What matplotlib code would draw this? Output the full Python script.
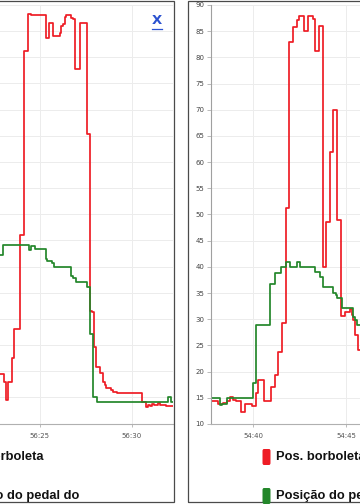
import matplotlib
matplotlib.use("Agg")
import matplotlib.pyplot as plt
from matplotlib.lines import Line2D
from matplotlib.patches import Rectangle, FancyBboxPatch

# left chart: seconds within minute 56
red_l_t = [22.83, 23.04, 23.15, 23.26, 23.48, 23.59, 23.89, 24.13, 24.35, 24.51, 24.62, 25.33, 25.49, 25.71,
           26.09, 26.14, 26.25, 26.36, 26.41, 26.68, 26.79, 26.90, 27.17, 27.55, 27.72, 27.83, 27.93, 28.04,
           28.26, 28.42, 28.53, 28.59, 28.86, 28.97, 29.18, 30.54, 30.76, 30.87, 30.98, 31.09, 31.20, 31.41,
           31.52, 31.85, 32.23]
red_l_v = [19.5, 18.0, 14.5, 18.0, 22.5, 28.0, 46.0, 81.3, 88.3, 88.0, 88.1, 83.7, 86.5, 84.0,
           84.6, 86.0, 86.3, 87.8, 88.0, 87.5, 87.4, 77.8, 86.6, 65.4, 31.6, 31.3, 24.6, 20.8,
           19.6, 17.9, 17.3, 16.8, 16.4, 16.0, 15.8, 14.1, 13.2, 13.5, 13.3, 13.7, 13.5, 13.9,
           13.5, 13.3, 13.3]
green_l_t = [22.83, 22.99, 24.40, 24.51, 24.73, 25.33, 25.38, 25.65, 25.76, 26.68, 26.79, 26.96, 27.55,
             27.72, 27.88, 28.10, 31.96, 32.12, 32.23]
green_l_v = [42.2, 44.2, 43.1, 44.0, 43.3, 41.4, 41.0, 40.6, 40.0, 38.2, 37.8, 37.0, 36.0,
             27.2, 15.1, 14.2, 15.0, 14.2, 14.2]

# right chart: seconds within minute 54
red_r_t = [37.74, 38.13, 38.23, 38.40, 38.59, 38.76, 38.91, 39.09, 39.35, 39.57, 39.93, 40.16, 40.29, 40.59,
           40.95, 41.18, 41.36, 41.54, 41.77, 41.95, 42.13, 42.35, 42.49, 42.74, 42.97, 43.21, 43.33, 43.56,
           43.75, 43.92, 44.14, 44.32, 44.50, 44.73, 44.95, 45.22, 45.31, 45.39, 45.48, 45.66, 45.75]
red_r_v = [14.4, 13.9, 13.8, 14.0, 14.3, 15.1, 14.6, 14.3, 12.3, 13.8, 13.5, 16.0, 18.4, 14.4,
           17.1, 19.4, 23.8, 29.2, 51.2, 83.0, 85.8, 87.2, 87.9, 85.0, 87.9, 87.4, 81.2, 86.0,
           39.9, 48.6, 61.9, 70.0, 48.9, 30.6, 31.4, 31.9, 30.8, 29.8, 27.0, 24.1, 24.1]
green_r_t = [37.74, 38.23, 38.32, 38.59, 39.98, 40.16, 40.91, 41.18, 41.51, 41.77, 41.99, 42.38, 42.53,
             43.33, 43.60, 43.75, 44.32, 44.46, 44.53, 44.77, 45.36, 45.48, 45.58, 45.75]
green_r_v = [14.9, 13.6, 13.9, 14.9, 17.9, 28.9, 36.8, 38.9, 40.0, 40.9, 40.0, 41.0, 39.9,
             39.0, 38.0, 36.1, 35.1, 34.6, 34.0, 32.1, 30.5, 29.8, 28.9, 28.9]

y_ticks = list(range(10, 95, 5))
x_ticks_l = [25, 30]
x_labels_l = ["56:25", "56:30"]
x_ticks_r = [40, 45]
x_labels_r = ["54:40", "54:45"]
labels = ["Pos. borboleta", "Posição do pedal do"]

RED = "#ee1c25"
GREEN = "#23872a"
W, H = 360, 504

fig = plt.figure(figsize=(3.6, 5.04), dpi=100)


def fx(px):
    return px / W


def fy(py):
    return 1 - py / H


def setup(ax, xlim, xt, xl, show_y):
    ax.set_xlim(*xlim)
    ax.set_ylim(10, 90)
    ax.set_yticks(y_ticks)
    ax.set_xticks(xt)
    ax.set_xticklabels(xl)
    ax.grid(True, color="#ececec", lw=0.7)
    ax.set_axisbelow(True)
    for s in ["top", "right"]:
        ax.spines[s].set_visible(False)
    ax.spines["bottom"].set_color("#b0b0b0")
    ax.spines["left"].set_color("#a0a0a0")
    ax.spines["left"].set_visible(show_y)
    ax.tick_params(axis="x", length=2.2, width=0.6, color="#b0b0b0", pad=4.5,
                   labelsize=5, labelcolor="#555555")
    ax.tick_params(axis="y", length=2.9, width=0.6, color="#b0b0b0", pad=1.8,
                   labelsize=5, labelcolor="#444444", labelleft=show_y, left=show_y)


ax_l = fig.add_axes([0, fy(423.5), 173 / W, (423.5 - 5) / H])
setup(ax_l, (22.83, 32.23), x_ticks_l, x_labels_l, False)
ax_l.step(red_l_t, red_l_v, where="post", color=RED, lw=1.25)
ax_l.step(green_l_t, green_l_v, where="post", color=GREEN, lw=1.25)

ax_r = fig.add_axes([fx(211), fy(424), (360 - 211) / W, (424 - 5) / H])
setup(ax_r, (37.74, 45.75), x_ticks_r, x_labels_r, True)
ax_r.step(red_r_t, red_r_v, where="post", color=RED, lw=1.25)
ax_r.step(green_r_t, green_r_v, where="post", color=GREEN, lw=1.25)

# panel frames
fig.add_artist(Rectangle((fx(-300), fy(501.5)), fx(473.5), fy(0.6) - fy(501.5),
                         transform=fig.transFigure, fill=False, ec="#4a4a4a", lw=0.9))
fig.add_artist(Rectangle((fx(187.5), fy(501.5)), fx(400), fy(0.6) - fy(501.5),
                         transform=fig.transFigure, fill=False, ec="#4a4a4a", lw=0.9))

# legends (left one is cropped by the screenshot edge)
for x0, sq in [(-46, False), (276, True)]:
    for i, (lab, col) in enumerate(zip(labels, [RED, GREEN])):
        yc = 457 + i * 39
        fig.text(fx(x0), fy(yc), lab, fontsize=9.3, fontweight="bold", family="Liberation Sans",
                 color="#111111", ha="left", va="center")
        if sq:
            fig.add_artist(FancyBboxPatch((fx(262.5), fy(yc + 8)), fx(8), fy(yc - 8) - fy(yc + 8),
                                          boxstyle="round,pad=0,rounding_size=0.004",
                                          transform=fig.transFigure, fc=col, ec="none"))

# close link
fig.text(fx(156.7), fy(20.8), "X", fontsize=9.5, fontweight="bold", color="#2b52d0",
         ha="center", va="center")
fig.add_artist(Line2D([fx(151.5), fx(162)], [fy(28.5), fy(28.5)], transform=fig.transFigure,
                      color="#2b52d0", lw=0.9))

fig.savefig("out.png", dpi=100)
